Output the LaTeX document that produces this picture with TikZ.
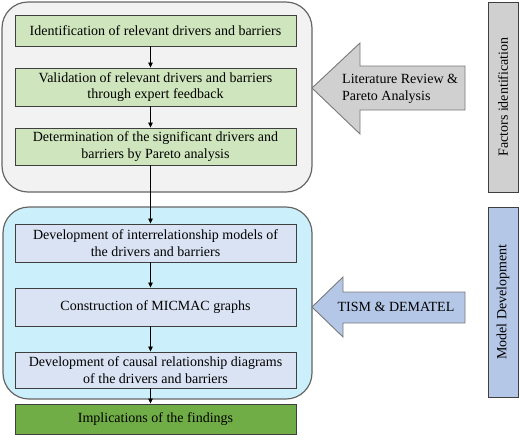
\documentclass[tikz,border=0pt]{standalone}
\usepackage{fontspec}
\setmainfont{Liberation Serif}
\usepackage{xcolor}
\usepackage{tikz}
\usetikzlibrary{arrows.meta,positioning,calc}

\definecolor{stepgreen}{HTML}{CFE5BD}
\definecolor{finalgreen}{HTML}{70AD47}
\definecolor{paleblue}{HTML}{DAE3F3}
\definecolor{midblue}{HTML}{B4C7E7}
\definecolor{cyanbg}{HTML}{CCF0FB}
\definecolor{greybg}{HTML}{F2F2F2}
\definecolor{greyarrow}{HTML}{D0D0D0}
\definecolor{edge}{HTML}{3F3F3F}

\tikzset{
  stepbox/.style={draw=edge, line width=0.9pt, minimum width=281pt, align=center,
    font=\fontsize{14}{16.5}\selectfont, inner sep=1pt},
  phase/.style={draw=edge!80, line width=1.2pt, rounded corners=26pt},
  flow/.style={-{Triangle[length=5pt,width=4.5pt]}, line width=0.8pt, draw=black},
  sidebar/.style={draw=edge, line width=1pt, minimum width=30pt, minimum height=190pt},
  sidetext/.style={rotate=90, font=\fontsize{14}{16}\selectfont},
  bigarrow/.style={draw=edge!70, line width=0.9pt}
}

\begin{document}
\begin{tikzpicture}[x=1pt,y=-1pt]
		\useasboundingbox (0,0) rectangle (520,445);

		% phase backgrounds
		\draw[phase, fill=greybg] (2,2) rectangle (312,192);
		\draw[phase, fill=cyanbg] (3,207) rectangle (312,399);

		% steps
		\node[stepbox, fill=stepgreen, minimum height=31pt] (s1) at (155.5,30.5) {Identification of relevant drivers and barriers};
		\node[stepbox, fill=stepgreen, minimum height=38pt] (s2) at (155.5,87) {Validation of relevant drivers and barriers\\through expert feedback};
		\node[stepbox, fill=stepgreen, minimum height=37pt] (s3) at (155.5,146.5) {Determination of the significant drivers and\\barriers by Pareto analysis};
		\node[stepbox, fill=paleblue, minimum height=38pt] (s4) at (155.5,243) {Development of interrelationship models of\\the drivers and barriers};
		\node[stepbox, fill=paleblue, minimum height=38pt] (s5) at (155.5,307) {Construction of MICMAC graphs};
		\node[stepbox, fill=paleblue, minimum height=36pt] (s6) at (155.5,370) {Development of causal relationship diagrams\\of the drivers and barriers};
		\node[stepbox, fill=finalgreen, minimum height=30pt] (s7) at (155.5,419) {Implications of the findings};

		\foreach \a/\b in {s1/s2,s2/s3,s3/s4,s4/s5,s5/s6,s6/s7}
			\draw[flow] ([xshift=-5pt]\a.south) -- ([xshift=-5pt]\b.north);

		% method arrows
		\draw[bigarrow, fill=greyarrow] (312,88) -- (360,43) -- (360,66) -- (465,66) -- (465,110) -- (360,110) -- (360,134) -- cycle;
		\node[align=left, font=\fontsize{14}{17}\selectfont, anchor=west, inner sep=0pt] (lit) at (342,89) {Literature Review \&\\Pareto Analysis};

		\draw[bigarrow, fill=midblue] (312,307) -- (343,277) -- (343,292) -- (465,292) -- (465,323) -- (343,323) -- (343,337) -- cycle;
		\node[font=\fontsize{14}{16}\selectfont] (tool) at (396,307) {TISM \& DEMATEL};

		% phase labels
		\node[sidebar, fill=greyarrow] (ph1) at (503,97) {};
		\node[sidetext] at (ph1.center) {Factors identification};
		\node[sidebar, fill=midblue] (ph2) at (503,302) {};
		\node[sidetext] at (ph2.center) {Model Development};
	\end{tikzpicture}
\end{document}
